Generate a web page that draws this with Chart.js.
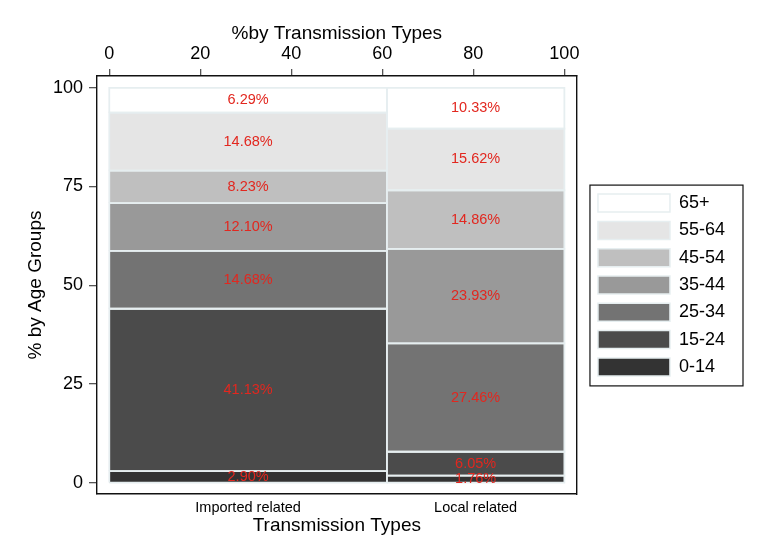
<!DOCTYPE html>
<html>
<head>
<meta charset="utf-8">
<script src="https://cdn.jsdelivr.net/npm/chart.js@4/dist/chart.umd.min.js"></script>
<style>
  html, body { margin: 0; padding: 0; background: #fff; }
  #wrap { width: 770px; height: 560px; }
</style>
</head>
<body>
<div id="wrap"><canvas id="mosaic" width="770" height="560"></canvas></div>
<script>
/* mosaic (spine) plot: age groups within transmission types */

const ageGroups  = ['0-14', '15-24', '25-34', '35-44', '45-54', '55-64', '65+'];
const ageColors  = ['#333333', '#4b4b4b', '#737373', '#999999', '#bfbfbf', '#e5e5e5', '#ffffff'];
const transTypes = ['Imported related', 'Local related'];
const transShare = [61, 39];   // % by transmission types (column widths)
const importedPct = [2.90, 41.13, 14.68, 12.10, 8.23, 14.68, 6.29];
const localPct    = [1.76, 6.05, 27.46, 23.93, 14.86, 15.62, 10.33];
const xTickVals = [0, 20, 40, 60, 80, 100];
const yTickVals = [0, 25, 50, 75, 100];

const OUTLINE = '#e6eef0';
const LABEL_RED = '#e2271f';
const FONT = "'Liberation Sans', Arial, Helvetica, sans-serif";

const columns = [importedPct, localPct];

// build cells from the arrays
const cells = [];
let xStart = 0;
columns.forEach((pcts, c) => {
  const xEnd = xStart + transShare[c];
  let yStart = 0;
  pcts.forEach((p, g) => {
    const yEnd = yStart + p;
    cells.push({ x0: xStart, x1: xEnd, y0: yStart, y1: Math.min(yEnd, 100), g: g, pct: p });
    yStart = yEnd;
  });
  xStart = xEnd;
});

const colCenters = [];
let acc = 0;
transShare.forEach(w => { colCenters.push(acc + w / 2); acc += w; });

const datasets = [];
cells.forEach(cell => {
  // filled rectangle: top edge filled down to the bottom of the cell
  datasets.push({
    data: [{ x: cell.x0, y: cell.y1 }, { x: cell.x1, y: cell.y1 }],
    showLine: true,
    fill: { value: cell.y0 },
    backgroundColor: ageColors[cell.g],
    borderWidth: 0,
    pointRadius: 0,
    order: 2
  });
  // light outline around each cell
  datasets.push({
    data: [
      { x: cell.x0, y: cell.y0 }, { x: cell.x1, y: cell.y0 },
      { x: cell.x1, y: cell.y1 }, { x: cell.x0, y: cell.y1 },
      { x: cell.x0, y: cell.y0 }
    ],
    showLine: true,
    fill: false,
    borderColor: OUTLINE,
    borderWidth: 1.8,
    pointRadius: 0,
    order: 1
  });
});

const cellLabels = {
  id: 'cellLabels',
  afterDatasetsDraw(chart) {
    const ctx = chart.ctx;
    const xs = chart.scales.x, ys = chart.scales.y;
    ctx.save();
    ctx.font = '14.5px ' + FONT;
    ctx.fillStyle = LABEL_RED;
    ctx.textAlign = 'center';
    ctx.textBaseline = 'middle';
    cells.forEach(cell => {
      const px = xs.getPixelForValue((cell.x0 + cell.x1) / 2);
      const py = ys.getPixelForValue((cell.y0 + cell.y1) / 2);
      ctx.fillText(cell.pct.toFixed(2) + '%', px, py);
    });
    ctx.restore();
  }
};

const legendFrame = {
  id: 'legendFrame',
  afterDraw(chart) {
    const boxes = chart.legend.legendHitBoxes;
    if (!boxes || !boxes.length) return;
    const top = Math.min(...boxes.map(b => b.top));
    const bottom = Math.max(...boxes.map(b => b.top + b.height));
    const left = Math.min(...boxes.map(b => b.left));
    const right = Math.max(...boxes.map(b => b.left + b.width));
    const ctx = chart.ctx;
    ctx.save();
    ctx.strokeStyle = '#111';
    ctx.lineWidth = 1.2;
    ctx.strokeRect(left - 8, top - 9, right - left + 26, bottom - top + 19);
    ctx.restore();
  }
};

const frameBorder = { display: true, color: '#111', width: 1.4 };

new Chart(document.getElementById('mosaic').getContext('2d'), {
  type: 'scatter',
  data: { datasets: datasets },
  options: {
    responsive: false,
    animation: false,
    layout: { padding: { top: 10, right: 35, bottom: 0, left: 0 } },
    plugins: {
      tooltip: { enabled: false },
      legend: {
        position: 'right',
        maxWidth: 220,
        onClick: null,
        labels: {
          boxWidth: 72,
          boxHeight: 18,
          padding: 9.3,
          color: '#000',
          font: { family: FONT, size: 18 },
          generateLabels: () => ageGroups.map((name, i) => ({
            text: name,
            fillStyle: ageColors[i],
            strokeStyle: OUTLINE,
            lineWidth: 1.5,
            hidden: false,
            index: i
          })).reverse()
        }
      }
    },
    scales: {
      x: {
        type: 'linear',
        position: 'top',
        min: -2.7,
        max: 102.7,
        afterBuildTicks: s => { s.ticks = xTickVals.map(v => ({ value: v })); },
        afterFit: s => { s.height = 66; },
        ticks: { color: '#000', font: { family: FONT, size: 18 }, padding: 4 },
        grid: { drawOnChartArea: false, drawTicks: true, tickLength: 7, color: '#555', lineWidth: 1.3 },
        border: frameBorder,
        title: { display: true, text: '%by Transmission Types', color: '#000',
                 font: { family: FONT, size: 19 }, padding: { top: 12, bottom: 0 } }
      },
      x2: {
        type: 'linear',
        position: 'bottom',
        min: -2.7,
        max: 102.7,
        afterBuildTicks: s => { s.ticks = colCenters.map(v => ({ value: v })); },
        afterFit: s => { s.height = 66; },
        ticks: {
          color: '#000',
          font: { family: FONT, size: 14.5 },
          padding: 5,
          callback: (v, i) => transTypes[i]
        },
        grid: { display: false, drawTicks: false },
        border: frameBorder,
        title: { display: true, text: 'Transmission Types', color: '#000',
                 font: { family: FONT, size: 19 }, padding: { top: 0, bottom: 23 } }
      },
      y: {
        type: 'linear',
        position: 'left',
        min: -2.9,
        max: 103,
        afterBuildTicks: s => { s.ticks = yTickVals.map(v => ({ value: v })); },
        afterFit: s => { s.width = 97; },
        ticks: { color: '#000', font: { family: FONT, size: 18 }, padding: 6 },
        grid: { drawOnChartArea: false, drawTicks: true, tickLength: 8, color: '#555', lineWidth: 1.3 },
        border: frameBorder,
        title: { display: true, text: '% by Age Groups', color: '#000',
                 font: { family: FONT, size: 19 }, padding: { top: 24, bottom: 0 } }
      },
      y2: {
        type: 'linear',
        position: 'right',
        min: -2.9,
        max: 103,
        afterFit: s => { s.width = 12; },
        ticks: { display: false },
        grid: { display: false, drawTicks: false },
        border: frameBorder
      }
    }
  },
  plugins: [cellLabels, legendFrame]
});
</script>
</body>
</html>
